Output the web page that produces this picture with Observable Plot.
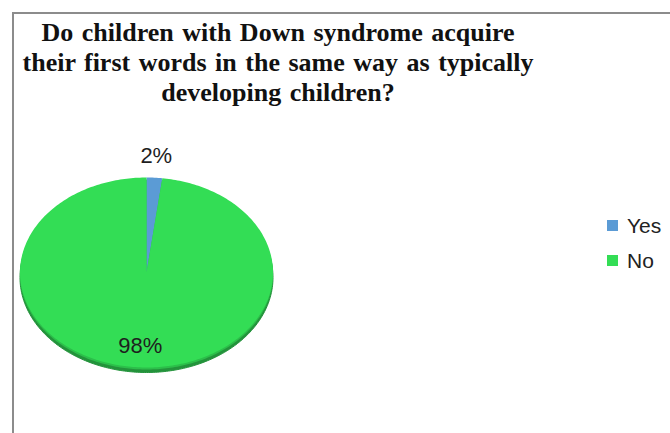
<!DOCTYPE html>
<html>
<head>
<meta charset="utf-8">
<script src="https://cdn.jsdelivr.net/npm/d3@7"></script>
<script src="https://cdn.jsdelivr.net/npm/@observablehq/plot@0.6"></script>
<style>
  html, body { margin: 0; padding: 0; background: #fff; }
  #chart { position: relative; width: 670px; height: 433px; overflow: hidden; }
  #frame {
    position: absolute; left: 12px; top: 12px; right: -4px; bottom: -4px;
    border-left: 2px solid #8c8c8c; border-top: 2px solid #8c8c8c;
  }
  #title {
    position: absolute; left: 0; top: 18px; width: 556px;
    font-family: "Liberation Serif", "Times New Roman", serif;
    font-weight: bold; font-size: 26px; line-height: 30px;
    word-spacing: 2px; text-align: center; color: #111;
  }
  #plot { position: absolute; left: 0; top: 0; }
  #legend {
    position: absolute; left: 607px; top: 208px;
    font-family: "Liberation Sans", Arial, sans-serif; font-size: 21px; color: #222;
  }
  #legend .item { display: flex; align-items: center; height: 35px; }
  #legend .sw { width: 11px; height: 11px; margin-right: 9px; }
</style>
</head>
<body>
<div id="chart">
  <div id="frame"></div>
  <div id="plot"></div>
  <div id="title"></div>
  <div id="legend"></div>
</div>
<script>
// Survey answers
const titleLines = [
  "Do children with Down syndrome acquire",
  "their first words in the same way as typically",
  "developing children?"
];
const categories = ["Yes", "No"];
const shares = [2, 98];
const colors = ["#5b9bd5", "#33dd55"];

const answers = categories.map((category, i) => ({category, value: shares[i]}));

// Slices run clockwise from the top of the pie
const arcs = d3.pie().sort(null).value(d => d.value)(answers);

// Outline of each slice as a closed polygon on the unit circle
function slicePoints(a) {
  const pts = [{category: a.data.category, x: 0, y: 0}];
  const n = Math.max(2, Math.ceil((a.endAngle - a.startAngle) / (Math.PI / 180)));
  for (let k = 0; k <= n; ++k) {
    const t = a.startAngle + (a.endAngle - a.startAngle) * k / n;
    pts.push({category: a.data.category, x: Math.sin(t), y: Math.cos(t)});
  }
  pts.push({category: a.data.category, x: 0, y: 0});
  return pts;
}
const slices = arcs.flatMap(slicePoints);
const rim = slicePoints({startAngle: 0, endAngle: 2 * Math.PI, data: {category: "rim"}});

// Percentage labels: small slices outside the pie, large ones inside
const labels = arcs.map(a => {
  const mid = (a.startAngle + a.endAngle) / 2;
  const r = a.value < 10 ? 1.23 : 0.77;
  return {x: r * Math.sin(mid), y: r * Math.cos(mid), text: `${a.value}%`};
});

const plot = Plot.plot({
  width: 670,
  height: 433,
  margin: 0,
  x: {domain: [-1, 1], range: [19.5, 272.5], axis: null},
  y: {domain: [-1, 1], range: [367, 177], axis: null},
  color: {domain: categories, range: colors},
  marks: [
    // side of the tilted disc
    Plot.line(rim, {x: "x", y: "y", fill: "#23933b", stroke: "#23933b", strokeWidth: 1, dy: 5}),
    Plot.line(rim, {x: "x", y: "y", fill: "#2cbf4a", stroke: "none", dy: 2}),
    // top face
    Plot.line(slices, {x: "x", y: "y", z: "category", fill: "category", stroke: "none"}),
    Plot.text(labels, {
      x: "x", y: "y", text: "text",
      fontFamily: "Liberation Sans, Arial, sans-serif", fontSize: 22, fill: "#1e1e1e"
    })
  ]
});
document.getElementById("plot").append(plot);

document.getElementById("title").innerHTML = titleLines.map(s => `<div>${s}</div>`).join("");

const legend = document.getElementById("legend");
categories.forEach((c, i) => {
  const item = document.createElement("div");
  item.className = "item";
  item.innerHTML = `<div class="sw" style="background:${colors[i]}"></div><span>${c}</span>`;
  legend.append(item);
});
</script>
</body>
</html>
